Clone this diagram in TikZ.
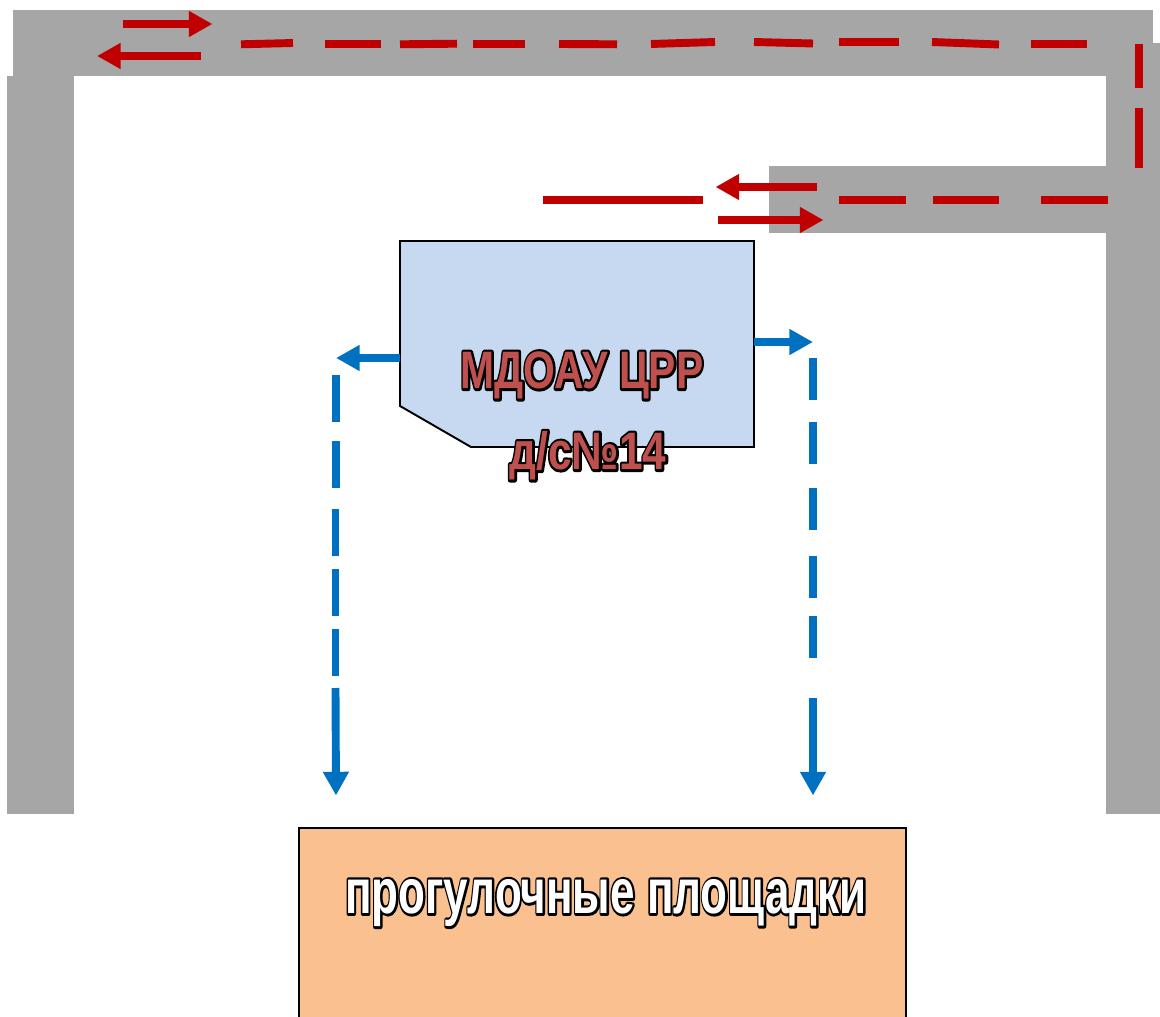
\documentclass[tikz,border=0pt]{standalone}
\usepackage{fontspec}
\setmainfont{Liberation Sans}
\newcommand{\outlinedtext}[2]{\rlap{\special{pdf:code q 2 Tr 1 j 2.9 w 0 0 0 RG}#2\special{pdf:code Q}}\textcolor{#1}{#2}}
\usetikzlibrary{%
  arrows.meta,%
  positioning%
}
\definecolor{wallgray}{HTML}{A6A6A6}
\definecolor{routered}{HTML}{C00000}
\definecolor{routeblue}{HTML}{0070C0}
\definecolor{housefill}{HTML}{C6D9F1}
\definecolor{yardfill}{HTML}{FAC090}
\definecolor{labelred}{HTML}{C0504D}

\begin{document}
\begin{tikzpicture}[
  x=0.02cm,y=-0.02cm,
  >={Triangle[length=13.5pt,width=14pt]},
  wall/.style={fill=wallgray,draw=none},
  redroute/.style={draw=routered,line width=4.5pt},
  blueroute/.style={draw=routeblue,line width=4.5pt},
  biglabel/.style={inner sep=0pt,anchor=base,font=\bfseries},
]
\useasboundingbox (0,0) rectangle (1160,1017);

% roads
\fill[wall] (13,10) rectangle (1153,76);
\fill[wall] (7,76) rectangle (74,814);
\fill[wall] (1106,43) rectangle (1160,814);
\fill[wall] (769,166) rectangle (1106,233);

% building and yard
\draw[fill=housefill,line width=1.1pt] (400,241) -- (754,241) -- (754,447) -- (471,447) -- (400,406) -- cycle;
\draw[fill=yardfill,line width=1.1pt] (299,828) rectangle (906,1030);

% car route
\foreach \xa/\ya/\xb/\yb in {241/44.3/293/43,325/43.7/381/43.7,400/44.3/457/43.7,473/43.7/525/43.7,559/44/617/44.3,651/44/715/42,754/42/813/43.5,839/42/899/42,932/42/999/44.5,1031/44/1087/44,1139/44/1139/88,1139/108/1139/168,1108/199.6/1041/199.6,999/199.6/933/199.6,906/199.6/839/199.6,703/200/543/200} {
  \draw[redroute] (\xa,\ya) -- (\xb,\yb);
}
\draw[redroute,->] (123,24) -- (212.5,24);
\draw[redroute,->] (201,56) -- (97,56);
\draw[redroute,->] (817,187) -- (715.5,187);
\draw[redroute,->] (718,220) -- (823.5,220);

% walking route
\foreach \x/\ya/\yb in {336/375/422,336/441/488,335.5/509/556,335.5/569/616,335.5/629/676,813/358/400,813/422/464,813/488/530,813/556/598,813/616/658} {
  \draw[blueroute] (\x,\ya) -- (\x,\yb);
}
\draw[blueroute,->] (400,358) -- (336,358);
\draw[blueroute,->] (754,342) -- (813,342);
\draw[blueroute,->] (335.5,688) -- (336,795.5);
\draw[blueroute,->] (813,698) -- (813,795.5);

% labels
\node[biglabel] (house1) at (582,388.5) {\fontsize{30}{30}\selectfont\scalebox{0.775}[1]{\outlinedtext{labelred}{МДОАУ ЦРР}}};
\node[biglabel] (house2) at (588,469.5) {\fontsize{30}{30}\selectfont\scalebox{0.805}[1]{\outlinedtext{labelred}{д/с№14}}};
\node[biglabel] (yard) at (606,913.4) {\fontsize{36}{36}\selectfont\scalebox{0.695}[1]{\outlinedtext{white}{прогулочные площадки}}};

\end{tikzpicture}
\end{document}
